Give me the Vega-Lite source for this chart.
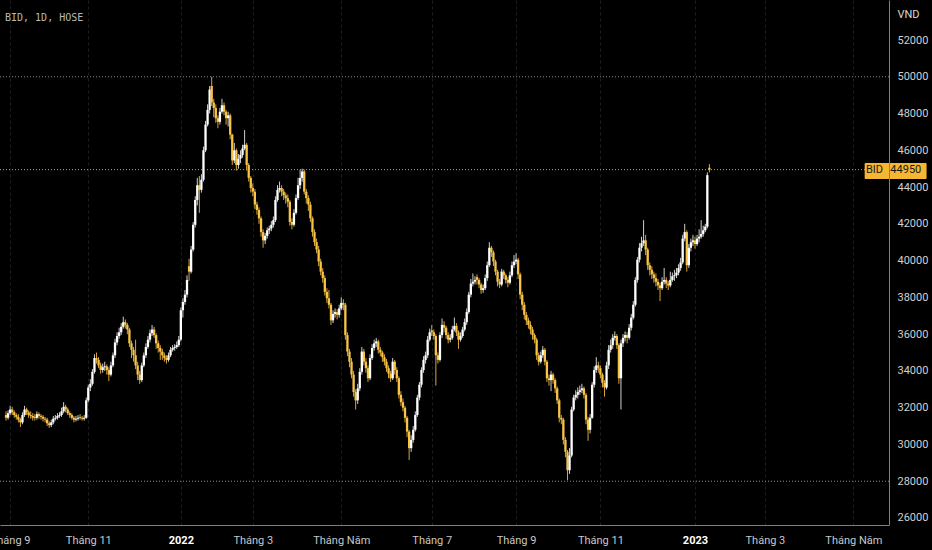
{
"$schema": "https://vega.github.io/schema/vega-lite/v6.json",
"width": 889, "height": 525,
"autosize": "none",
"padding": {"left": 0, "top": 0, "right": 43, "bottom": 25},
"background": "#000000",
"config": {"view": {"stroke": null}},
"title": {"text": "BID, 1D, HOSE", "anchor": "start", "frame": "group", "orient": "top", "offset": -28, "baseline": "middle", "dx": 5, "font": "DejaVu Sans Mono", "fontSize": 10, "fontWeight": "normal", "color": "#b8b8b8"},
"datasets": {"bid": [
{"i":0,"o":31600,"h":31800,"l":31300,"c":31450},{"i":1,"o":31450,"h":31850,"l":31350,"c":31700},{"i":2,"o":31700,"h":32100,"l":31600,"c":31900},{"i":3,"o":31900,"h":32050,"l":31600,"c":31750},{"i":4,"o":31750,"h":31850,"l":31450,"c":31600},{"i":5,"o":31600,"h":31700,"l":31350,"c":31500},{"i":6,"o":31500,"h":31650,"l":31200,"c":31350},{"i":7,"o":31350,"h":31450,"l":30950,"c":31200},{"i":8,"o":31200,"h":31750,"l":31100,"c":31600},{"i":9,"o":31600,"h":32100,"l":31500,"c":31900},
{"i":10,"o":31900,"h":32000,"l":31600,"c":31750},{"i":11,"o":31750,"h":31850,"l":31450,"c":31600},{"i":12,"o":31600,"h":31800,"l":31400,"c":31550},{"i":13,"o":31550,"h":31700,"l":31300,"c":31450},{"i":14,"o":31500,"h":31650,"l":31300,"c":31450},{"i":15,"o":31450,"h":31800,"l":31350,"c":31650},{"i":16,"o":31650,"h":31750,"l":31400,"c":31550},{"i":17,"o":31550,"h":31650,"l":31350,"c":31500},{"i":18,"o":31500,"h":31600,"l":31250,"c":31400},{"i":19,"o":31400,"h":31500,"l":31200,"c":31350},
{"i":20,"o":31350,"h":31450,"l":31000,"c":31150},{"i":21,"o":31150,"h":31250,"l":30900,"c":31050},{"i":22,"o":31050,"h":31350,"l":30950,"c":31200},{"i":23,"o":31200,"h":31550,"l":31100,"c":31400},{"i":24,"o":31400,"h":31600,"l":31300,"c":31450},{"i":25,"o":31450,"h":31700,"l":31350,"c":31550},{"i":26,"o":31550,"h":31750,"l":31450,"c":31600},{"i":27,"o":31600,"h":32000,"l":31500,"c":31800},{"i":28,"o":31800,"h":32300,"l":31700,"c":32050},{"i":29,"o":32050,"h":32150,"l":31750,"c":31900},
{"i":30,"o":31900,"h":32000,"l":31600,"c":31700},{"i":31,"o":31700,"h":31800,"l":31450,"c":31600},{"i":32,"o":31600,"h":31700,"l":31350,"c":31450},{"i":33,"o":31450,"h":31550,"l":31200,"c":31350},{"i":34,"o":31350,"h":31550,"l":31250,"c":31400},{"i":35,"o":31400,"h":31600,"l":31300,"c":31450},{"i":36,"o":31500,"h":31650,"l":31350,"c":31450},{"i":37,"o":31450,"h":31550,"l":31300,"c":31400},{"i":38,"o":31400,"h":31600,"l":31300,"c":31450},{"i":39,"o":31450,"h":32550,"l":31400,"c":32400},
{"i":40,"o":32400,"h":33250,"l":32300,"c":33100},{"i":41,"o":33100,"h":33550,"l":32900,"c":33300},{"i":42,"o":33300,"h":34100,"l":33200,"c":33950},{"i":43,"o":33950,"h":34900,"l":33850,"c":34700},{"i":44,"o":34700,"h":35000,"l":34400,"c":34600},{"i":45,"o":34600,"h":34750,"l":34150,"c":34300},{"i":46,"o":34300,"h":34450,"l":33850,"c":34050},{"i":47,"o":34050,"h":34400,"l":33900,"c":34200},{"i":48,"o":34200,"h":34500,"l":34000,"c":34250},{"i":49,"o":34250,"h":34350,"l":33800,"c":34050},
{"i":50,"o":34050,"h":34200,"l":33450,"c":33800},{"i":51,"o":33800,"h":34500,"l":33700,"c":34300},{"i":52,"o":34300,"h":35000,"l":34200,"c":34850},{"i":53,"o":34850,"h":35750,"l":34700,"c":35550},{"i":54,"o":35550,"h":36100,"l":35400,"c":35900},{"i":55,"o":35900,"h":36350,"l":35750,"c":36100},{"i":56,"o":36100,"h":36600,"l":35950,"c":36400},{"i":57,"o":36400,"h":36950,"l":36300,"c":36650},{"i":58,"o":36650,"h":36800,"l":36300,"c":36500},{"i":59,"o":36500,"h":36600,"l":36000,"c":36250},
{"i":60,"o":36250,"h":36350,"l":35300,"c":35500},{"i":61,"o":35500,"h":35650,"l":34700,"c":35150},{"i":62,"o":35150,"h":35300,"l":34500,"c":34850},{"i":63,"o":34850,"h":35700,"l":34100,"c":34300},{"i":64,"o":34300,"h":34500,"l":33500,"c":33800},{"i":65,"o":33800,"h":34000,"l":33300,"c":33500},{"i":66,"o":33500,"h":34450,"l":33400,"c":34300},{"i":67,"o":34300,"h":35000,"l":34200,"c":34850},{"i":68,"o":34850,"h":35500,"l":34700,"c":35300},{"i":69,"o":35300,"h":35900,"l":35200,"c":35700},
{"i":70,"o":35700,"h":36250,"l":35550,"c":36050},{"i":71,"o":36050,"h":36500,"l":35900,"c":36250},{"i":72,"o":36250,"h":36400,"l":35800,"c":35950},{"i":73,"o":35950,"h":36050,"l":35200,"c":35500},{"i":74,"o":35500,"h":35650,"l":35000,"c":35250},{"i":75,"o":35250,"h":35400,"l":34600,"c":35050},{"i":76,"o":35050,"h":35200,"l":34600,"c":34850},{"i":77,"o":34850,"h":35000,"l":34500,"c":34700},{"i":78,"o":34700,"h":34850,"l":34400,"c":34600},{"i":79,"o":34600,"h":35000,"l":34500,"c":34850},
{"i":80,"o":34850,"h":35300,"l":34750,"c":35150},{"i":81,"o":35150,"h":35400,"l":35050,"c":35250},{"i":82,"o":35250,"h":35450,"l":35100,"c":35300},{"i":83,"o":35300,"h":35600,"l":35200,"c":35400},{"i":84,"o":35400,"h":35900,"l":35300,"c":35700},{"i":85,"o":35700,"h":37450,"l":35600,"c":37300},{"i":86,"o":37300,"h":37950,"l":36900,"c":37750},{"i":87,"o":37750,"h":38400,"l":37600,"c":38150},{"i":88,"o":38150,"h":39200,"l":38000,"c":38950},{"i":89,"o":39700,"h":40100,"l":38900,"c":39400},
{"i":90,"o":39400,"h":40800,"l":39300,"c":40600},{"i":91,"o":40600,"h":42100,"l":40500,"c":41950},{"i":92,"o":41950,"h":43500,"l":41800,"c":43300},{"i":93,"o":43300,"h":44500,"l":43000,"c":44100},{"i":94,"o":44100,"h":44600,"l":42600,"c":43850},{"i":95,"o":43850,"h":44700,"l":43700,"c":44400},{"i":96,"o":44400,"h":46200,"l":44300,"c":46000},{"i":97,"o":46000,"h":47600,"l":45900,"c":47400},{"i":98,"o":47400,"h":48500,"l":47300,"c":48200},{"i":99,"o":48200,"h":49500,"l":48000,"c":49300},
{"i":100,"o":49500,"h":50000,"l":48400,"c":48600},{"i":101,"o":48600,"h":48800,"l":47800,"c":48300},{"i":102,"o":48300,"h":48500,"l":47500,"c":47750},{"i":103,"o":47750,"h":47900,"l":47200,"c":47550},{"i":104,"o":47550,"h":48300,"l":47400,"c":48100},{"i":105,"o":48100,"h":48800,"l":48000,"c":48450},{"i":106,"o":48450,"h":48600,"l":47900,"c":48100},{"i":107,"o":48100,"h":48200,"l":47400,"c":47750},{"i":108,"o":47750,"h":48100,"l":47300,"c":47900},{"i":109,"o":47900,"h":48000,"l":46600,"c":46850},
{"i":110,"o":46850,"h":46900,"l":45200,"c":45450},{"i":111,"o":45450,"h":46400,"l":45300,"c":46000},{"i":112,"o":46000,"h":46100,"l":44900,"c":45200},{"i":113,"o":45200,"h":45800,"l":45000,"c":45550},{"i":114,"o":45550,"h":46000,"l":45300,"c":45750},{"i":115,"o":45750,"h":46300,"l":45600,"c":46100},{"i":116,"o":46100,"h":47100,"l":46000,"c":46300},{"i":117,"o":46300,"h":46400,"l":44900,"c":45200},{"i":118,"o":45200,"h":45300,"l":44300,"c":44500},{"i":119,"o":44500,"h":44600,"l":43700,"c":43950},
{"i":120,"o":43950,"h":44200,"l":43500,"c":43750},{"i":121,"o":43750,"h":43900,"l":42800,"c":43050},{"i":122,"o":43050,"h":43200,"l":42500,"c":42750},{"i":123,"o":42750,"h":42900,"l":42000,"c":42300},{"i":124,"o":42300,"h":42400,"l":41300,"c":41550},{"i":125,"o":41550,"h":41700,"l":40700,"c":41100},{"i":126,"o":41100,"h":41500,"l":40900,"c":41350},{"i":127,"o":41350,"h":41800,"l":41200,"c":41650},{"i":128,"o":41650,"h":41900,"l":41450,"c":41750},{"i":129,"o":41750,"h":42150,"l":41600,"c":41950},
{"i":130,"o":41950,"h":42400,"l":41800,"c":42200},{"i":131,"o":42200,"h":43500,"l":42100,"c":43300},{"i":132,"o":43300,"h":44100,"l":43200,"c":43850},{"i":133,"o":43850,"h":44300,"l":43700,"c":43950},{"i":134,"o":43950,"h":44100,"l":43500,"c":43750},{"i":135,"o":43750,"h":43900,"l":43300,"c":43550},{"i":136,"o":43550,"h":43700,"l":43100,"c":43400},{"i":137,"o":43400,"h":43600,"l":42900,"c":43200},{"i":138,"o":43200,"h":43300,"l":41900,"c":42100},{"i":139,"o":42100,"h":42300,"l":41700,"c":41950},
{"i":140,"o":41950,"h":42800,"l":41850,"c":42600},{"i":141,"o":42600,"h":43600,"l":42500,"c":43400},{"i":142,"o":43400,"h":44500,"l":43300,"c":44100},{"i":143,"o":44100,"h":44950,"l":43900,"c":44500},{"i":144,"o":44500,"h":45000,"l":44300,"c":44850},{"i":145,"o":44850,"h":44950,"l":43600,"c":43750},{"i":146,"o":43750,"h":43900,"l":43100,"c":43400},{"i":147,"o":43400,"h":43550,"l":42700,"c":43050},{"i":148,"o":43050,"h":43200,"l":42100,"c":42300},{"i":149,"o":42300,"h":42400,"l":41300,"c":41550},
{"i":150,"o":41550,"h":41700,"l":40800,"c":41000},{"i":151,"o":41000,"h":41200,"l":40400,"c":40600},{"i":152,"o":40600,"h":40800,"l":39700,"c":39950},{"i":153,"o":39950,"h":40100,"l":39200,"c":39400},{"i":154,"o":39400,"h":39600,"l":38800,"c":39050},{"i":155,"o":39050,"h":39200,"l":38100,"c":38300},{"i":156,"o":38300,"h":38500,"l":37700,"c":37950},{"i":157,"o":37950,"h":38400,"l":37400,"c":37600},{"i":158,"o":37600,"h":37700,"l":36500,"c":36750},{"i":159,"o":36750,"h":37300,"l":36600,"c":37100},
{"i":160,"o":37100,"h":37400,"l":36900,"c":37200},{"i":161,"o":37200,"h":37350,"l":36800,"c":37050},{"i":162,"o":37050,"h":37600,"l":36900,"c":37400},{"i":163,"o":37400,"h":38000,"l":37300,"c":37700},{"i":164,"o":37700,"h":37900,"l":37300,"c":37600},{"i":165,"o":37600,"h":37700,"l":35700,"c":35950},{"i":166,"o":35950,"h":36100,"l":34800,"c":35050},{"i":167,"o":35050,"h":35200,"l":34200,"c":34500},{"i":168,"o":34500,"h":34700,"l":33600,"c":33800},{"i":169,"o":33800,"h":34000,"l":32600,"c":32850},
{"i":170,"o":32850,"h":33000,"l":31900,"c":32400},{"i":171,"o":32400,"h":33300,"l":32200,"c":33050},{"i":172,"o":33050,"h":34150,"l":32900,"c":33950},{"i":173,"o":33950,"h":35300,"l":33800,"c":35050},{"i":174,"o":35050,"h":35200,"l":34300,"c":34500},{"i":175,"o":34500,"h":34700,"l":33900,"c":34150},{"i":176,"o":34150,"h":34300,"l":33400,"c":33600},{"i":177,"o":33600,"h":34900,"l":33500,"c":34700},{"i":178,"o":34700,"h":35450,"l":34600,"c":35250},{"i":179,"o":35250,"h":35700,"l":35100,"c":35500},
{"i":180,"o":35500,"h":35800,"l":35300,"c":35600},{"i":181,"o":35600,"h":35700,"l":34950,"c":35150},{"i":182,"o":35150,"h":35300,"l":34800,"c":35000},{"i":183,"o":35000,"h":35100,"l":34500,"c":34750},{"i":184,"o":34750,"h":34900,"l":34300,"c":34500},{"i":185,"o":34500,"h":34650,"l":33950,"c":34150},{"i":186,"o":34150,"h":34300,"l":33600,"c":33850},{"i":187,"o":33850,"h":34000,"l":33400,"c":33600},{"i":188,"o":33600,"h":34700,"l":33500,"c":34500},{"i":189,"o":34500,"h":34600,"l":33800,"c":34050},
{"i":190,"o":34050,"h":34200,"l":33400,"c":33600},{"i":191,"o":33600,"h":33700,"l":32500,"c":32700},{"i":192,"o":32700,"h":32900,"l":32100,"c":32300},{"i":193,"o":32300,"h":32500,"l":31800,"c":32000},{"i":194,"o":32000,"h":32100,"l":31200,"c":31450},{"i":195,"o":31450,"h":31550,"l":30400,"c":30700},{"i":196,"o":30700,"h":30800,"l":29150,"c":29800},{"i":197,"o":29800,"h":30500,"l":29600,"c":30250},{"i":198,"o":30250,"h":31000,"l":30100,"c":30800},{"i":199,"o":30800,"h":31800,"l":30700,"c":31600},
{"i":200,"o":31600,"h":32700,"l":31500,"c":32550},{"i":201,"o":32550,"h":33400,"l":32400,"c":33250},{"i":202,"o":33250,"h":34200,"l":33100,"c":34050},{"i":203,"o":34050,"h":34800,"l":33900,"c":34600},{"i":204,"o":34600,"h":35050,"l":34400,"c":34850},{"i":205,"o":34850,"h":35900,"l":34700,"c":35700},{"i":206,"o":35700,"h":36300,"l":35600,"c":36100},{"i":207,"o":36200,"h":36500,"l":35900,"c":36100},{"i":208,"o":36100,"h":36250,"l":35700,"c":35900},{"i":209,"o":35900,"h":36000,"l":33200,"c":34850},
{"i":210,"o":34850,"h":35000,"l":34400,"c":34600},{"i":211,"o":34600,"h":36100,"l":34500,"c":35950},{"i":212,"o":35950,"h":36850,"l":35800,"c":36500},{"i":213,"o":36500,"h":36700,"l":36100,"c":36350},{"i":214,"o":36350,"h":36450,"l":35750,"c":35950},{"i":215,"o":35950,"h":36100,"l":35500,"c":35700},{"i":216,"o":35700,"h":36000,"l":35550,"c":35800},{"i":217,"o":35800,"h":36450,"l":35700,"c":36250},{"i":218,"o":36250,"h":36900,"l":36150,"c":36450},{"i":219,"o":36450,"h":36600,"l":35900,"c":36100},
{"i":220,"o":36100,"h":36200,"l":35200,"c":35700},{"i":221,"o":35700,"h":36100,"l":35600,"c":35900},{"i":222,"o":35900,"h":36400,"l":35800,"c":36250},{"i":223,"o":36250,"h":36850,"l":36150,"c":36650},{"i":224,"o":36650,"h":37400,"l":36500,"c":37200},{"i":225,"o":37200,"h":38300,"l":37100,"c":38150},{"i":226,"o":38150,"h":39000,"l":38000,"c":38750},{"i":227,"o":38750,"h":39300,"l":38600,"c":38850},{"i":228,"o":38850,"h":39150,"l":38700,"c":38950},{"i":229,"o":39100,"h":39250,"l":38700,"c":38950},
{"i":230,"o":38950,"h":39050,"l":38500,"c":38700},{"i":231,"o":38700,"h":38800,"l":38200,"c":38400},{"i":232,"o":38400,"h":38700,"l":38250,"c":38500},{"i":233,"o":38500,"h":39250,"l":38400,"c":39050},{"i":234,"o":39050,"h":39950,"l":38900,"c":39750},{"i":235,"o":39750,"h":41000,"l":39650,"c":40700},{"i":236,"o":40700,"h":40800,"l":40200,"c":40450},{"i":237,"o":40450,"h":40550,"l":39700,"c":39950},{"i":238,"o":39950,"h":40050,"l":39200,"c":39400},{"i":239,"o":39400,"h":39500,"l":38600,"c":38850},
{"i":240,"o":38850,"h":39000,"l":38500,"c":38700},{"i":241,"o":38700,"h":39550,"l":38600,"c":39400},{"i":242,"o":39400,"h":39500,"l":39000,"c":39200},{"i":243,"o":39200,"h":39300,"l":38750,"c":38950},{"i":244,"o":38950,"h":39100,"l":38550,"c":38800},{"i":245,"o":38800,"h":39400,"l":38700,"c":39200},{"i":246,"o":39200,"h":39950,"l":39100,"c":39750},{"i":247,"o":39750,"h":40300,"l":39600,"c":39950},{"i":248,"o":39950,"h":40400,"l":39800,"c":40050},{"i":249,"o":40050,"h":40150,"l":39000,"c":39250},
{"i":250,"o":39250,"h":39350,"l":37900,"c":38150},{"i":251,"o":38150,"h":38300,"l":37300,"c":37600},{"i":252,"o":37600,"h":37750,"l":36800,"c":37050},{"i":253,"o":37050,"h":37200,"l":36500,"c":36750},{"i":254,"o":36750,"h":36900,"l":36300,"c":36500},{"i":255,"o":36500,"h":36700,"l":36000,"c":36250},{"i":256,"o":36250,"h":36400,"l":35700,"c":35950},{"i":257,"o":35950,"h":36050,"l":35500,"c":35700},{"i":258,"o":35700,"h":35800,"l":34600,"c":34850},{"i":259,"o":34850,"h":35000,"l":34300,"c":34500},
{"i":260,"o":34500,"h":35050,"l":34400,"c":34850},{"i":261,"o":34850,"h":35350,"l":34700,"c":35150},{"i":262,"o":35150,"h":35250,"l":34300,"c":34500},{"i":263,"o":34500,"h":34600,"l":33400,"c":33600},{"i":264,"o":33600,"h":33800,"l":33200,"c":33500},{"i":265,"o":33500,"h":34000,"l":32900,"c":33800},{"i":266,"o":33800,"h":33900,"l":33300,"c":33500},{"i":267,"o":33500,"h":33600,"l":32800,"c":33050},{"i":268,"o":33050,"h":33150,"l":32200,"c":32400},{"i":269,"o":32400,"h":32500,"l":31200,"c":31450},
{"i":270,"o":31450,"h":31600,"l":31100,"c":31350},{"i":271,"o":31350,"h":31450,"l":30000,"c":30250},{"i":272,"o":30250,"h":30400,"l":29300,"c":29600},{"i":273,"o":29600,"h":29700,"l":28050,"c":28600},{"i":274,"o":28600,"h":29800,"l":28400,"c":29400},{"i":275,"o":29400,"h":32050,"l":29300,"c":31900},{"i":276,"o":31900,"h":32700,"l":31800,"c":32550},{"i":277,"o":32550,"h":32950,"l":32400,"c":32700},{"i":278,"o":32700,"h":33100,"l":32500,"c":32850},{"i":279,"o":32850,"h":33200,"l":32700,"c":32950},
{"i":280,"o":32950,"h":33300,"l":32800,"c":33050},{"i":281,"o":33050,"h":33150,"l":32500,"c":32700},{"i":282,"o":32700,"h":32800,"l":31100,"c":31350},{"i":283,"o":31350,"h":31500,"l":30200,"c":30800},{"i":284,"o":30800,"h":31650,"l":30600,"c":31450},{"i":285,"o":31450,"h":33400,"l":31400,"c":33250},{"i":286,"o":33250,"h":34250,"l":33100,"c":34050},{"i":287,"o":34050,"h":34750,"l":33900,"c":34300},{"i":288,"o":34300,"h":34500,"l":33900,"c":34150},{"i":289,"o":34150,"h":34300,"l":33600,"c":33800},
{"i":290,"o":33800,"h":33900,"l":33100,"c":33350},{"i":291,"o":33350,"h":33500,"l":32600,"c":33100},{"i":292,"o":33100,"h":34500,"l":33000,"c":34300},{"i":293,"o":34300,"h":35400,"l":34100,"c":35150},{"i":294,"o":35150,"h":35700,"l":35000,"c":35400},{"i":295,"o":35400,"h":36000,"l":35200,"c":35800},{"i":296,"o":35800,"h":36150,"l":35650,"c":35900},{"i":297,"o":35900,"h":36000,"l":35200,"c":35400},{"i":298,"o":35400,"h":35500,"l":33300,"c":33600},{"i":299,"o":33600,"h":35700,"l":31900,"c":35500},
{"i":300,"o":35500,"h":36000,"l":35300,"c":35800},{"i":301,"o":35800,"h":36150,"l":35600,"c":35950},{"i":302,"o":35950,"h":36100,"l":35500,"c":35800},{"i":303,"o":35800,"h":36550,"l":35700,"c":36350},{"i":304,"o":36350,"h":37100,"l":36200,"c":36900},{"i":305,"o":36900,"h":37800,"l":36800,"c":37600},{"i":306,"o":37600,"h":39100,"l":37500,"c":38950},{"i":307,"o":38950,"h":40200,"l":38800,"c":40050},{"i":308,"o":40050,"h":40950,"l":39900,"c":40700},{"i":309,"o":40700,"h":41300,"l":40500,"c":40950},
{"i":310,"o":40950,"h":42200,"l":40800,"c":41100},{"i":311,"o":41100,"h":41400,"l":40300,"c":40600},{"i":312,"o":40600,"h":40700,"l":39500,"c":39750},{"i":313,"o":39750,"h":39900,"l":39200,"c":39500},{"i":314,"o":39500,"h":39700,"l":39000,"c":39250},{"i":315,"o":39250,"h":39400,"l":38800,"c":39050},{"i":316,"o":39050,"h":39300,"l":38600,"c":38850},{"i":317,"o":38850,"h":39000,"l":38400,"c":38650},{"i":318,"o":38650,"h":38800,"l":37800,"c":38500},{"i":319,"o":38500,"h":39100,"l":38400,"c":38850},
{"i":320,"o":38850,"h":39600,"l":38700,"c":38950},{"i":321,"o":38950,"h":39100,"l":38500,"c":38750},{"i":322,"o":38750,"h":38900,"l":38400,"c":38650},{"i":323,"o":38650,"h":39400,"l":38550,"c":38950},{"i":324,"o":38950,"h":39350,"l":38850,"c":39150},{"i":325,"o":39150,"h":39500,"l":38900,"c":39200},{"i":326,"o":39200,"h":39600,"l":39050,"c":39350},{"i":327,"o":39350,"h":39800,"l":39200,"c":39600},{"i":328,"o":39600,"h":40150,"l":39450,"c":39900},{"i":329,"o":39900,"h":41400,"l":39800,"c":41200},
{"i":330,"o":41200,"h":42000,"l":41050,"c":41550},{"i":331,"o":41550,"h":41650,"l":39400,"c":39750},{"i":332,"o":39750,"h":40900,"l":39600,"c":40700},{"i":333,"o":40700,"h":41200,"l":40500,"c":41000},{"i":334,"o":41000,"h":41400,"l":40800,"c":41100},{"i":335,"o":41100,"h":41300,"l":40650,"c":40900},{"i":336,"o":40900,"h":41400,"l":40800,"c":41200},{"i":337,"o":41200,"h":41700,"l":41000,"c":41300},{"i":338,"o":41300,"h":42200,"l":41200,"c":41450},{"i":339,"o":41450,"h":41900,"l":41300,"c":41650},
{"i":340,"o":41650,"h":42000,"l":41550,"c":41850},{"i":341,"o":41850,"h":44800,"l":41750,"c":44650},{"i":342,"o":45050,"h":45250,"l":44800,"c":44950}
],
"lines": [{"p":50000,"k":"hi"},{"p":28000,"k":"lo"}],
"last": [{"p":44950,"s":"BID"}]},
"layer": [
{"data": {"name": "bid"},
 "mark": {"type": "rule", "strokeWidth": 1},
 "encoding": {
  "x": {"field": "i", "type": "quantitative", "scale": {"domain": [-0.5, 426.9], "nice": false, "zero": false},
   "axis": {"values": [2, 40, 85, 120, 163, 207, 248, 289, 335, 369, 412], "title": null, "ticks": false, "labelPadding": 9, "labelFontSize": 11, "labelFont": "Liberation Sans Narrow, Roboto, sans-serif", "labelOverlap": false, "labelFlush": false, "domainColor": "#808080", "grid": true, "gridColor": "#1e1e1e", "gridDash": [3, 3],
    "labelExpr": "datum.value < 20 ? 'Tháng 9' : datum.value < 60 ? 'Tháng 11' : datum.value < 100 ? '2022' : datum.value < 140 ? 'Tháng 3' : datum.value < 185 ? 'Tháng Năm' : datum.value < 228 ? 'Tháng 7' : datum.value < 268 ? 'Tháng 9' : datum.value < 310 ? 'Tháng 11' : datum.value < 350 ? '2023' : datum.value < 390 ? 'Tháng 3' : 'Tháng Năm'",
    "labelFontWeight": {"condition": {"test": "datum.value == 85 || datum.value == 335", "value": "bold"}, "value": "normal"},
    "labelColor": {"condition": {"test": "datum.value == 85 || datum.value == 335", "value": "#ffffff"}, "value": "#c8c8c8"}}},
  "y": {"field": "l", "type": "quantitative", "scale": {"domain": [25619, 54176], "nice": false, "zero": false},
   "axis": {"orient": "right", "values": [26000, 28000, 30000, 32000, 34000, 36000, 38000, 40000, 42000, 44000, 46000, 48000, 50000, 52000], "format": "d", "ticks": false, "grid": false, "labelPadding": 8, "labelFontSize": 11, "labelFont": "Liberation Sans Narrow, Roboto, sans-serif", "labelColor": "#d0d0d0", "domainColor": "#808080", "zindex": 1,
    "title": "VND", "titleAngle": 0, "titleAlign": "left", "titleBaseline": "middle", "titleX": 8, "titleY": 14, "titleFontSize": 11, "titleFont": "Liberation Sans Narrow, Roboto, sans-serif", "titleFontWeight": "normal", "titleColor": "#d8d8d8"}},
  "y2": {"field": "h"},
  "color": {"condition": {"test": "datum.c >= datum.o", "value": "#cfcfcf"}, "value": "#d9a53a"}}},
{"data": {"name": "bid"},
 "mark": {"type": "bar", "size": 2.3},
 "encoding": {
  "x": {"field": "i", "type": "quantitative"},
  "y": {"field": "o", "type": "quantitative"},
  "y2": {"field": "c"},
  "color": {"condition": {"test": "datum.c >= datum.o", "value": "#ffffff"}, "value": "#f7c446"}}},
{"data": {"name": "lines"},
 "mark": {"type": "rule", "color": "#8a8a8a", "strokeDash": [1, 2], "strokeWidth": 1},
 "encoding": {"y": {"field": "p", "type": "quantitative"}}},
{"data": {"name": "last"},
 "mark": {"type": "rule", "color": "#d9a12e", "strokeDash": [1, 2], "strokeWidth": 1},
 "encoding": {"y": {"field": "p", "type": "quantitative"}}},
{"data": {"name": "last"},
 "mark": {"type": "rect", "color": "#f5b731", "cornerRadius": 1},
 "encoding": {
  "x": {"datum": 417.5, "type": "quantitative"},
  "x2": {"datum": 447.6},
  "y": {"datum": 45310, "type": "quantitative"},
  "y2": {"datum": 44440}}},
{"data": {"name": "last"},
 "mark": {"type": "text", "color": "#1a1a1a", "fontSize": 11, "font": "Liberation Sans Narrow, Roboto, sans-serif", "baseline": "middle", "align": "center"},
 "encoding": {
  "x": {"datum": 422.3, "type": "quantitative"},
  "y": {"field": "p", "type": "quantitative"},
  "text": {"field": "s"}}},
{"data": {"name": "last"},
 "mark": {"type": "text", "color": "#1a1a1a", "fontSize": 11, "font": "Liberation Sans Narrow, Roboto, sans-serif", "baseline": "middle", "align": "center"},
 "encoding": {
  "x": {"datum": 437.5, "type": "quantitative"},
  "y": {"field": "p", "type": "quantitative"},
  "text": {"field": "p", "format": "d"}}}
]
}
